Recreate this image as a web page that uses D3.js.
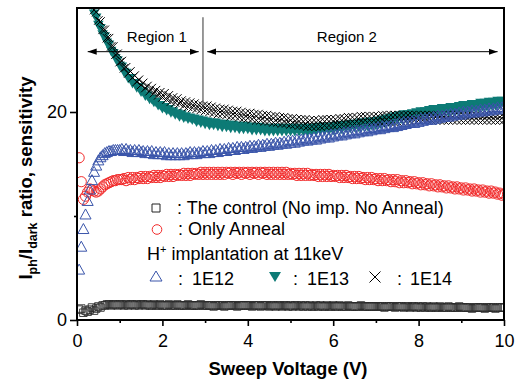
<!DOCTYPE html>
<html>
<head>
<meta charset="utf-8">
<script src="https://cdn.jsdelivr.net/npm/d3@7"></script>
<style>
  html, body { margin: 0; padding: 0; background: #fff; }
  svg { display: block; font-family: "Liberation Sans", Arial, sans-serif; }
</style>
</head>
<body>
<svg id="chart" width="515" height="382"></svg>
<script>
// ---------------- DATA ----------------
// Sweep voltage grid (V): 0.05 V steps from 0.05 to 10.00
const sweepVoltage = d3.range(1, 201).map(i => +(i * 0.05).toFixed(2));

// The control (No imp. No Anneal)
const controlValues = [
  1.0,1.1,0.7,0.9,0.8,1.0,1.2,0.9,1.1,1.3,1.2,1.4,1.4,1.5,1.5,1.4,1.5,1.5,1.4,1.5,
  1.5,1.4,1.5,1.4,1.5,1.5,1.4,1.5,1.4,1.5,1.5,1.4,1.5,1.4,1.4,1.5,1.4,1.4,1.5,1.4,
  1.4,1.4,1.5,1.4,1.4,1.4,1.5,1.4,1.4,1.4,1.4,1.5,1.4,1.4,1.4,1.4,1.4,1.5,1.4,1.4,
  1.4,1.4,1.4,1.3,1.4,1.4,1.4,1.4,1.3,1.4,1.4,1.4,1.4,1.4,1.3,1.4,1.4,1.4,1.4,1.4,
  1.4,1.3,1.4,1.4,1.4,1.3,1.4,1.4,1.4,1.3,1.4,1.4,1.3,1.4,1.4,1.3,1.4,1.4,1.3,1.4,
  1.3,1.4,1.4,1.3,1.4,1.3,1.4,1.3,1.4,1.3,1.3,1.4,1.3,1.4,1.3,1.3,1.4,1.3,1.3,1.4,
  1.3,1.3,1.4,1.3,1.3,1.3,1.4,1.3,1.3,1.3,1.3,1.3,1.4,1.3,1.3,1.3,1.3,1.3,1.3,1.3,
  1.3,1.3,1.3,1.2,1.3,1.3,1.3,1.3,1.2,1.3,1.3,1.3,1.2,1.3,1.3,1.2,1.3,1.3,1.2,1.3,
  1.2,1.3,1.2,1.3,1.2,1.2,1.3,1.2,1.2,1.3,1.2,1.2,1.2,1.3,1.2,1.2,1.2,1.2,1.3,1.2,
  1.2,1.2,1.2,1.2,1.1,1.2,1.2,1.2,1.2,1.2,1.1,1.2,1.2,1.2,1.2,1.1,1.2,1.2,1.2,1.2
];

// Only Anneal
const annealValues = [
  15.6,13.3,11.6,11.9,12.3,12.6,12.5,12.4,12.3,12.4,12.6,12.8,13.0,13.1,13.2,13.3,13.4,13.4,13.5,13.5,
  13.5,13.6,13.4,13.7,13.5,13.7,13.5,13.7,13.6,13.8,13.6,13.8,13.6,13.8,13.7,13.9,13.7,13.9,13.7,13.9,
  13.8,14.0,13.8,14.0,13.8,14.0,13.9,14.0,13.9,14.1,13.9,14.1,13.9,14.1,14.0,14.1,14.0,14.2,14.0,14.2,
  14.0,14.2,14.0,14.2,14.0,14.2,14.0,14.2,14.0,14.2,14.1,14.2,14.0,14.2,14.1,14.2,14.0,14.2,14.1,14.2,
  14.0,14.2,14.1,14.2,14.0,14.2,14.1,14.2,14.0,14.2,14.0,14.2,14.0,14.2,14.0,14.2,14.0,14.2,14.0,14.1,
  14.0,14.1,13.9,14.1,13.9,14.1,13.9,14.1,13.9,14.0,13.9,14.0,13.8,14.0,13.8,14.0,13.8,14.0,13.8,13.9,
  13.8,13.9,13.7,13.9,13.7,13.9,13.7,13.8,13.6,13.8,13.6,13.8,13.6,13.7,13.5,13.7,13.5,13.7,13.5,13.6,
  13.4,13.6,13.4,13.6,13.4,13.5,13.3,13.5,13.3,13.5,13.2,13.4,13.2,13.4,13.2,13.3,13.1,13.3,13.1,13.2,
  13.0,13.2,13.0,13.1,12.9,13.1,12.9,13.0,12.8,13.0,12.8,12.9,12.7,12.9,12.7,12.8,12.6,12.8,12.6,12.7,
  12.5,12.7,12.5,12.6,12.4,12.6,12.4,12.5,12.3,12.5,12.3,12.4,12.2,12.4,12.2,12.3,12.1,12.2,12.0,12.1
];

// H+ implantation 1E12
const imp1E12Values = [
  4.8,7.0,8.7,10.1,11.4,12.5,13.4,14.2,14.8,15.3,15.6,15.8,16.0,16.1,16.2,16.2,16.3,16.3,16.3,16.3,
  16.4,16.2,16.4,16.2,16.3,16.1,16.3,16.1,16.3,16.1,16.2,16.0,16.2,16.0,16.2,15.9,16.1,15.9,16.1,15.9,
  16.1,15.8,16.0,15.8,16.0,15.8,16.0,15.8,16.0,15.8,16.0,15.9,16.1,15.9,16.1,15.9,16.1,16.0,16.2,16.0,
  16.2,16.0,16.3,16.1,16.3,16.1,16.4,16.2,16.4,16.2,16.5,16.3,16.5,16.3,16.6,16.4,16.6,16.4,16.6,16.5,
  16.7,16.5,16.7,16.6,16.8,16.6,16.8,16.7,16.9,16.7,16.9,16.8,17.0,16.8,17.0,16.9,17.1,16.9,17.2,17.0,
  17.2,17.0,17.3,17.1,17.3,17.2,17.4,17.2,17.4,17.3,17.5,17.3,17.6,17.4,17.6,17.5,17.7,17.5,17.8,17.6,
  17.8,17.7,17.9,17.7,18.0,17.8,18.0,17.9,18.1,17.9,18.2,18.0,18.2,18.1,18.3,18.1,18.4,18.2,18.4,18.3,
  18.5,18.3,18.6,18.4,18.6,18.5,18.7,18.5,18.8,18.6,18.9,18.7,19.0,18.8,19.0,18.9,19.1,18.9,19.2,19.0,
  19.3,19.1,19.3,19.2,19.4,19.2,19.5,19.3,19.6,19.4,19.6,19.5,19.7,19.5,19.8,19.6,19.8,19.7,19.9,19.7,
  20.0,19.8,20.0,19.9,20.1,19.9,20.1,20.0,20.2,20.0,20.2,20.1,20.3,20.1,20.3,20.2,20.4,20.2,20.4,20.3
];

// H+ implantation 1E13
const imp1E13Values = [
  null,null,null,null,null,null,30.3,29.5,29.1,28.4,28.1,27.5,27.3,26.7,26.5,25.9,25.7,25.2,25.0,24.5,
  24.4,23.9,23.8,23.3,23.3,22.8,22.8,22.4,22.4,22.0,22.0,21.6,21.6,21.3,21.3,21.0,21.0,20.7,20.7,20.4,
  20.5,20.2,20.3,20.0,20.1,19.8,19.9,19.6,19.8,19.5,19.6,19.4,19.5,19.3,19.4,19.1,19.3,19.0,19.2,18.9,
  19.1,18.8,19.0,18.8,19.0,18.7,18.9,18.6,18.9,18.6,18.8,18.5,18.8,18.5,18.7,18.4,18.7,18.4,18.7,18.4,
  18.6,18.3,18.6,18.3,18.6,18.3,18.5,18.2,18.5,18.2,18.5,18.2,18.5,18.2,18.5,18.2,18.5,18.2,18.5,18.2,
  18.5,18.2,18.5,18.2,18.5,18.2,18.5,18.2,18.5,18.2,18.5,18.2,18.6,18.3,18.6,18.3,18.6,18.3,18.6,18.3,
  18.7,18.4,18.7,18.4,18.8,18.5,18.8,18.5,18.9,18.6,18.9,18.6,19.0,18.7,19.0,18.7,19.1,18.8,19.1,18.8,
  19.2,18.9,19.3,19.0,19.4,19.1,19.5,19.2,19.6,19.3,19.7,19.4,19.8,19.5,19.8,19.5,19.9,19.6,20.0,19.7,
  20.1,19.8,20.1,19.8,20.2,19.9,20.3,20.0,20.3,20.0,20.4,20.1,20.4,20.1,20.5,20.2,20.5,20.2,20.6,20.3,
  20.7,20.4,20.7,20.4,20.8,20.5,20.8,20.5,20.9,20.6,20.9,20.6,21.0,20.7,21.0,20.7,21.1,20.8,21.1,20.8
];

// H+ implantation 1E14
const imp1E14Values = [
  null,null,null,null,null,null,30.6,29.8,29.6,28.8,28.7,27.9,27.9,27.1,27.1,26.3,26.3,25.5,25.6,24.8,
  24.9,24.2,24.3,23.7,23.9,23.3,23.5,22.9,23.1,22.6,22.8,22.3,22.5,22.0,22.3,21.8,22.1,21.6,21.9,21.4,
  21.8,21.2,21.6,21.0,21.4,20.9,21.3,20.8,21.1,20.6,21.0,20.5,20.9,20.4,20.8,20.3,20.7,20.2,20.6,20.1,
  20.6,20.0,20.5,19.9,20.4,19.8,20.3,19.8,20.3,19.7,20.2,19.6,20.1,19.6,20.1,19.5,20.0,19.4,19.9,19.4,
  19.9,19.3,19.8,19.2,19.8,19.2,19.7,19.1,19.7,19.1,19.6,19.0,19.6,19.0,19.5,18.9,19.5,18.9,19.4,18.8,
  19.4,18.8,19.3,18.7,19.3,18.7,19.3,18.6,19.2,18.6,19.2,18.6,19.2,18.6,19.3,18.7,19.3,18.7,19.3,18.7,
  19.3,18.8,19.4,18.8,19.4,18.8,19.5,18.9,19.5,18.9,19.5,18.9,19.6,19.0,19.6,19.0,19.6,19.0,19.6,19.0,
  19.6,19.0,19.7,19.1,19.7,19.1,19.7,19.1,19.7,19.1,19.7,19.1,19.7,19.1,19.7,19.1,19.7,19.2,19.7,19.2,
  19.7,19.2,19.7,19.2,19.7,19.2,19.7,19.2,19.7,19.2,19.7,19.2,19.7,19.2,19.7,19.2,19.7,19.2,19.7,19.2,
  19.7,19.2,19.7,19.2,19.7,19.2,19.7,19.2,19.7,19.2,19.7,19.2,19.7,19.2,19.7,19.2,19.7,19.2,19.7,19.2
];

const xMajorTicks = [0, 2, 4, 6, 8, 10];
const xMinorTicks = [1, 3, 5, 7, 9];
const yMajorTicks = [0, 20];
const yMinorTicks = [10];

// Region annotation (in data units)
const regionBoundary = 2.95;
const regionBoundaryRange = [20.7, 29.1];
const region1Span = [0.25, 2.85];
const region2Span = [3.05, 9.85];
const regionArrowLevel = 25.8;
const regionLabels = [
  { text: "Region 1", v: 1.87, level: 26.7 },
  { text: "Region 2", v: 6.32, level: 26.7 }
];

// ---------------- CHART ----------------
const svg = d3.select("#chart");
const x = d3.scaleLinear().domain([0, 10]).range([77, 504]);
const y = d3.scaleLinear().domain([0, 30]).range([320, 8]);

svg.append("defs").append("clipPath").attr("id", "plotclip")
  .append("rect").attr("x", 77).attr("y", 8).attr("width", 427).attr("height", 312);

const shapes = {
  square: s => `M${-s/2},${-s/2}h${s}v${s}h${-s}Z`,
  circle: r => `M${-r},0a${r},${r} 0 1,0 ${2*r},0a${r},${r} 0 1,0 ${-2*r},0Z`,
  triUp: (w, h) => `M0,${-h*0.6}L${w/2},${h*0.4}L${-w/2},${h*0.4}Z`,
  triDown: (w, h) => `M${-w/2},${-h*0.4}L${w/2},${-h*0.4}L0,${h*0.6}Z`,
  cross: s => `M${-s/2},${-s/2}L${s/2},${s/2}M${-s/2},${s/2}L${s/2},${-s/2}`
};

const series = [
  { values: controlValues, path: shapes.square(7.5), fill: "none", stroke: "#2a2a2a", sw: 0.9 },
  { values: annealValues, path: shapes.circle(5.1), fill: "none", stroke: "#f22a2a", sw: 1 },
  { values: imp1E13Values, path: shapes.triDown(10.5, 9.5), fill: "#0d7b76", stroke: "none", sw: 0 },
  { values: imp1E14Values, path: shapes.cross(8.5), fill: "none", stroke: "#000", sw: 1 },
  { values: imp1E12Values, path: shapes.triUp(11, 10), fill: "none", stroke: "#3a55aa", sw: 1 }
];

const plot = svg.append("g").attr("clip-path", "url(#plotclip)");
series.forEach(s => {
  const pts = sweepVoltage.map((v, i) => ({ v, val: s.values[i] })).filter(d => d.val != null);
  plot.append("g").selectAll("path").data(pts).join("path")
    .attr("d", s.path)
    .attr("transform", d => `translate(${x(d.v)},${y(d.val)})`)
    .attr("fill", s.fill)
    .attr("stroke", s.stroke)
    .attr("stroke-width", s.sw);
});

// Axes
const axisFont = 18;
const gx = svg.append("g").attr("transform", "translate(0,320)")
  .call(d3.axisBottom(x).tickValues(xMajorTicks).tickSize(6).tickPadding(8).tickFormat(d3.format("d")));
const gxm = svg.append("g").attr("transform", "translate(0,320)")
  .call(d3.axisBottom(x).tickValues(xMinorTicks).tickSize(3).tickFormat(""));
const gy = svg.append("g").attr("transform", "translate(77,0)")
  .call(d3.axisLeft(y).tickValues(yMajorTicks).tickSize(7).tickPadding(3).tickFormat(d3.format("d")));
const gym = svg.append("g").attr("transform", "translate(77,0)")
  .call(d3.axisLeft(y).tickValues(yMinorTicks).tickSize(3).tickFormat(""));
[gx, gxm, gy, gym].forEach(g => {
  g.select(".domain").remove();
  g.selectAll(".tick line").attr("stroke", "#000").attr("stroke-width", 1.6);
  g.selectAll(".tick text").attr("font-size", axisFont).attr("fill", "#000")
    .attr("font-family", '"Liberation Sans", Arial, sans-serif');
});

// Frame
svg.append("rect").attr("x", x(0)).attr("y", y(30)).attr("width", x(10) - x(0)).attr("height", y(0) - y(30))
  .attr("fill", "none").attr("stroke", "#000").attr("stroke-width", 2);

// Region annotation
const ann = svg.append("g");
ann.append("line").attr("x1", x(regionBoundary)).attr("x2", x(regionBoundary))
  .attr("y1", y(regionBoundaryRange[1])).attr("y2", y(regionBoundaryRange[0]))
  .attr("stroke", "#555").attr("stroke-width", 1.2);
svg.select("defs").append("marker").attr("id", "ah").attr("viewBox", "0 0 10 10")
  .attr("refX", 10).attr("refY", 5).attr("markerWidth", 9).attr("markerHeight", 9)
  .attr("markerUnits", "userSpaceOnUse").attr("orient", "auto-start-reverse")
  .append("path").attr("d", "M0,1.5L10,5L0,8.5Z").attr("fill", "#000");
[region1Span, region2Span].forEach(sp => {
  ann.append("line").attr("x1", x(sp[0])).attr("x2", x(sp[1]))
    .attr("y1", y(regionArrowLevel)).attr("y2", y(regionArrowLevel))
    .attr("stroke", "#000").attr("stroke-width", 1)
    .attr("marker-start", "url(#ah)").attr("marker-end", "url(#ah)");
});
regionLabels.forEach(r => {
  ann.append("text").attr("x", x(r.v)).attr("y", y(r.level)).attr("text-anchor", "middle")
    .attr("font-size", 15).attr("fill", "#000").text(r.text);
});

// Axis titles
svg.append("text").attr("x", 288).attr("y", 375).attr("text-anchor", "middle")
  .attr("font-size", 18.5).attr("font-weight", "bold").text("Sweep Voltage (V)");
const yt = svg.append("text").attr("transform", "translate(32,178) rotate(-90)")
  .attr("text-anchor", "middle").attr("font-size", 18.5).attr("font-weight", "bold");
yt.append("tspan").text("I");
yt.append("tspan").attr("dy", 5).attr("font-size", 12.5).text("ph");
yt.append("tspan").attr("dy", -5).text("/I");
yt.append("tspan").attr("dy", 5).attr("font-size", 12.5).text("dark");
yt.append("tspan").attr("dy", -5).text(" ratio, sensitivity");

// Legend
const lg = svg.append("g").attr("font-size", 18).attr("fill", "#000");
lg.append("path").attr("d", shapes.square(8)).attr("transform", "translate(156,208)")
  .attr("fill", "none").attr("stroke", "#222").attr("stroke-width", 1);
lg.append("text").attr("x", 177).attr("y", 213.5).text(": The control (No imp. No Anneal)");
lg.append("path").attr("d", shapes.circle(4.8)).attr("transform", "translate(157,229.5)")
  .attr("fill", "none").attr("stroke", "#f22a2a").attr("stroke-width", 1);
lg.append("text").attr("x", 178).attr("y", 235).text(": Only Anneal");
const h = lg.append("text").attr("x", 147).attr("y", 260);
h.append("tspan").text("H");
h.append("tspan").attr("dy", -7).attr("font-size", 11).text("+");
h.append("tspan").attr("dy", 7).text(" implantation at 11keV");
lg.append("path").attr("d", shapes.triUp(12, 10)).attr("transform", "translate(156,277)")
  .attr("fill", "none").attr("stroke", "#3a55aa").attr("stroke-width", 1);
lg.append("text").attr("x", 178).attr("y", 285).text(":");
lg.append("text").attr("x", 192).attr("y", 285).text("1E12");
lg.append("path").attr("d", shapes.triDown(12, 10)).attr("transform", "translate(275,276)")
  .attr("fill", "#0d7b76");
lg.append("text").attr("x", 293).attr("y", 285).text(":");
lg.append("text").attr("x", 307).attr("y", 285).text("1E13");
lg.append("path").attr("d", shapes.cross(11)).attr("transform", "translate(375,277)")
  .attr("fill", "none").attr("stroke", "#000").attr("stroke-width", 1);
lg.append("text").attr("x", 397).attr("y", 285).text(":");
lg.append("text").attr("x", 410).attr("y", 285).text("1E14");
</script>
</body>
</html>
